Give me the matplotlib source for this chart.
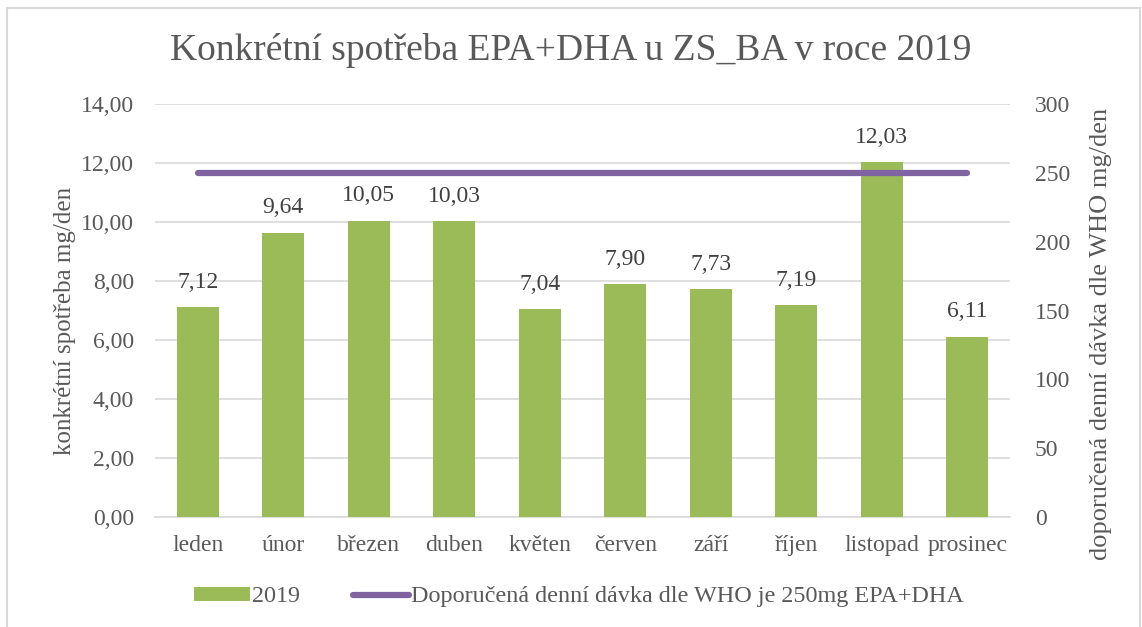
import matplotlib
matplotlib.use("Agg")
import matplotlib.pyplot as plt
from matplotlib.patches import Rectangle

# data
months = ["leden", "únor", "březen", "duben", "květen", "červen",
          "září", "říjen", "listopad", "prosinec"]
values = [7.12, 9.64, 10.05, 10.03, 7.04, 7.90, 7.73, 7.19, 12.03, 6.11]
who_dose = [250] * len(months)

green = "#9BBB59"
purple = "#8064A2"
grey_txt = "#595959"

plt.rcParams["font.family"] = "serif"
plt.rcParams["font.serif"] = ["Liberation Serif", "Times New Roman", "DejaVu Serif"]

fig = plt.figure(figsize=(11.42, 6.27), dpi=100)
# chart area frame
fig.patches.append(Rectangle((0.0065, -0.02), 0.992, 1.0072, transform=fig.transFigure,
                             fill=False, edgecolor="#D9D9D9", linewidth=1.5))
ax = fig.add_axes([0.1357, 0.1754, 0.7487, 0.6586])
ax2 = ax.twinx()

x = list(range(len(months)))
bars = ax.bar(x, values, width=0.49, color=green, zorder=3, label="2019")
for xi, v in zip(x, values):
    ax.annotate(f"{v:.2f}".replace(".", ","), (xi, v), xytext=(0, 14),
                textcoords="offset points", ha="center", va="baseline",
                fontsize=17, color="#404040")

line, = ax2.plot(x, who_dose, color=purple, linewidth=4.5, solid_capstyle="round",
                 label="Doporučená denní dávka dle WHO je 250mg EPA+DHA")

ax.set_ylim(0, 14)
ax.set_yticks(range(0, 15, 2))
ax.set_yticklabels([f"{t:.2f}".replace(".", ",") for t in range(0, 15, 2)])
ax2.set_ylim(0, 300)
ax2.set_yticks(range(0, 301, 50))
ax.set_xlim(-0.5, len(months) - 0.5)
ax.set_xticks(x)
ax.set_xticklabels(months)

ax.grid(axis="y", color="#D9D9D9", linewidth=1.2, zorder=0)
ax.set_axisbelow(True)
for a in (ax, ax2):
    for s in a.spines.values():
        s.set_visible(False)
    a.tick_params(length=0, labelsize=17, colors=grey_txt)
ax.tick_params(axis="y", pad=15)
ax.tick_params(axis="x", pad=13)
ax2.tick_params(axis="y", pad=18)
ax.spines["bottom"].set_visible(True)
ax.spines["bottom"].set_color("#D9D9D9")
ax.spines["bottom"].set_linewidth(1.2)

ax.set_ylabel("konkrétní spotřeba mg/den", fontsize=18, color=grey_txt)
ax.yaxis.set_label_coords(-0.092, 0.476)
ax2.set_ylabel("doporučená denní dávka dle WHO mg/den", fontsize=19, color=grey_txt)
ax2.yaxis.set_label_coords(1.093, 0.443)

fig.text(0.5, 0.92, "Konkrétní spotřeba EPA+DHA u ZS_BA v roce 2019", ha="center",
         va="center", fontsize=27, color=grey_txt)

fig.legend(handles=[bars, line], loc="center", bbox_to_anchor=(0.507, 0.048), ncol=2,
           frameon=False, fontsize=17.4, labelcolor=grey_txt, handlelength=2.3,
           handleheight=0.5, columnspacing=2.2, handletextpad=0.1)

fig.savefig("out.png", dpi=100)
